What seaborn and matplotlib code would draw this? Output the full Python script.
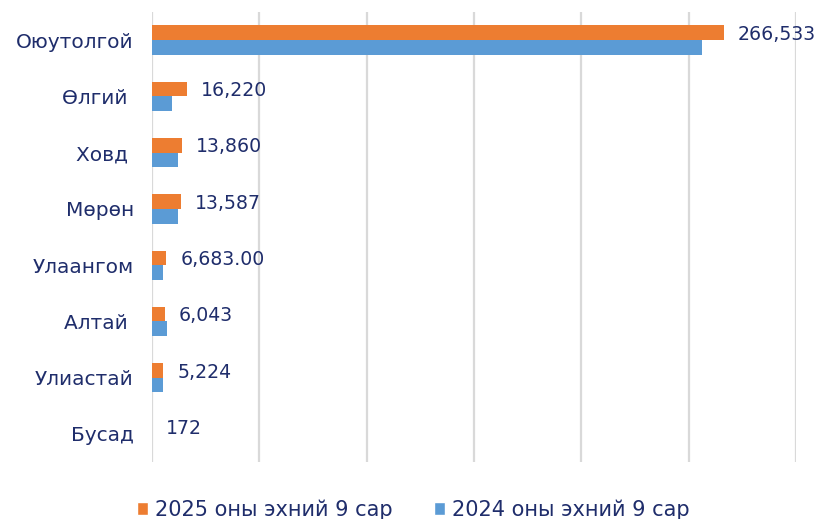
import numpy as np
import pandas as pd
import matplotlib
matplotlib.use("Agg")
import matplotlib.pyplot as plt
import matplotlib.patches as mpatches
import seaborn as sns

# Data
cities = ["Оюутолгой", "Өлгий ", "Ховд ", "Мөрөн", "Улаангом", "Алтай ", "Улиастай", "Бусад"]
vals_2025 = [266533, 16220, 13860, 13587, 6683, 6043, 5224, 172]
vals_2024 = [256300, 9200, 12300, 12300, 5100, 7000, 5000, 0]
labels_2025 = ["266,533", "16,220", "13,860", "13,587", "6,683.00", "6,043", "5,224", "172"]
series = ["2025 оны эхний 9 сар", "2024 оны эхний 9 сар"]
colors = ["#ED7D31", "#5B9BD5"]
text_color = "#1F2D6B"

df = pd.DataFrame({
    "city": cities * 2,
    "value": vals_2025 + vals_2024,
    "series": [series[0]] * len(cities) + [series[1]] * len(cities),
})

sns.set_theme(style="white")
plt.rcParams["font.family"] = ["DejaVu Sans"]

fig = plt.figure(figsize=(8.18, 5.19), dpi=100)
ax = fig.add_axes([0.1858, 0.1098, 0.7873, 0.8671])

sns.barplot(data=df, y="city", x="value", hue="series", hue_order=series,
            palette=colors, orient="h", width=0.52, saturation=1,
            order=cities, legend=False, linewidth=0, ax=ax)

ax.set_xlim(0, 300000)
ax.set_xticks(np.arange(0, 300001, 50000))
ax.xaxis.grid(True, color="#D9D9D9", linewidth=1.6)
ax.set_axisbelow(True)
ax.tick_params(axis="x", length=0, labelbottom=False)
ax.tick_params(axis="y", length=0, pad=13, labelsize=14.5, labelcolor=text_color)
for s in ax.spines.values():
    s.set_visible(False)
ax.set_xlabel("")
ax.set_ylabel("")

# value labels for 2025 series
for i, (v, lab) in enumerate(zip(vals_2025, labels_2025)):
    ax.annotate(lab, (v, i - 0.1), xytext=(10, 0), textcoords="offset points",
                va="center", ha="left", fontsize=13.6, color=text_color)

handles = [mpatches.Patch(facecolor=c, label=s) for c, s in zip(colors, series)]
fig.legend(handles=handles, loc="center", bbox_to_anchor=(0.505, 0.018), ncol=2,
           frameon=False, fontsize=15, labelcolor=text_color,
           handlelength=0.55, handleheight=0.55, handletextpad=0.3, columnspacing=2.0)

fig.savefig("out.png", dpi=100)
